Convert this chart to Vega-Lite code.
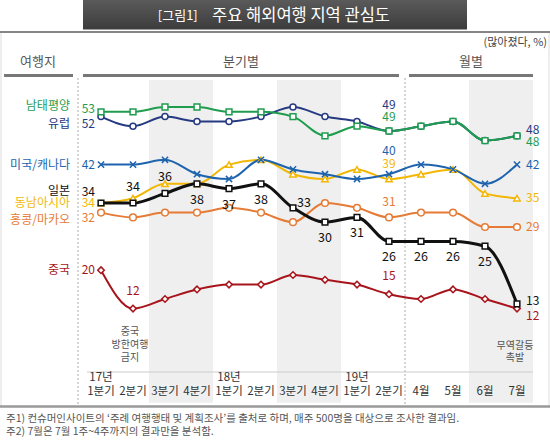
{
  "$schema": "https://vega.github.io/schema/vega-lite/v6.json",
  "width": 550,
  "height": 440,
  "autosize": {"type": "none"},
  "padding": 0,
  "background": "white",
  "config": {"view": {"stroke": null}, "text": {"font": "Noto Sans CJK KR"}},
  "datasets": {
    "series": [
      {"s":"홍콩/마카오","i":0,"v":32},{"s":"홍콩/마카오","i":1,"v":31},{"s":"홍콩/마카오","i":2,"v":32},{"s":"홍콩/마카오","i":3,"v":32},{"s":"홍콩/마카오","i":4,"v":33},{"s":"홍콩/마카오","i":5,"v":32},{"s":"홍콩/마카오","i":6,"v":30},{"s":"홍콩/마카오","i":7,"v":34},{"s":"홍콩/마카오","i":8,"v":33},{"s":"홍콩/마카오","i":9,"v":31},{"s":"홍콩/마카오","i":10,"v":32},{"s":"홍콩/마카오","i":11,"v":32},{"s":"홍콩/마카오","i":12,"v":29},{"s":"홍콩/마카오","i":13,"v":29},
      {"s":"중국","i":0,"v":20},{"s":"중국","i":1,"v":12},{"s":"중국","i":2,"v":14},{"s":"중국","i":3,"v":16},{"s":"중국","i":4,"v":17},{"s":"중국","i":5,"v":17},{"s":"중국","i":6,"v":19},{"s":"중국","i":7,"v":18},{"s":"중국","i":8,"v":17},{"s":"중국","i":9,"v":15},{"s":"중국","i":10,"v":14},{"s":"중국","i":11,"v":16},{"s":"중국","i":12,"v":14},{"s":"중국","i":13,"v":12},
      {"s":"동남아시아","i":0,"v":34},{"s":"동남아시아","i":1,"v":35},{"s":"동남아시아","i":2,"v":38},{"s":"동남아시아","i":3,"v":38},{"s":"동남아시아","i":4,"v":42},{"s":"동남아시아","i":5,"v":43},{"s":"동남아시아","i":6,"v":40},{"s":"동남아시아","i":7,"v":39},{"s":"동남아시아","i":8,"v":41},{"s":"동남아시아","i":9,"v":39},{"s":"동남아시아","i":10,"v":40},{"s":"동남아시아","i":11,"v":41},{"s":"동남아시아","i":12,"v":36},{"s":"동남아시아","i":13,"v":35},
      {"s":"미국/캐나다","i":0,"v":42},{"s":"미국/캐나다","i":1,"v":42},{"s":"미국/캐나다","i":2,"v":43},{"s":"미국/캐나다","i":3,"v":40},{"s":"미국/캐나다","i":4,"v":39},{"s":"미국/캐나다","i":5,"v":43},{"s":"미국/캐나다","i":6,"v":41},{"s":"미국/캐나다","i":7,"v":40},{"s":"미국/캐나다","i":8,"v":39},{"s":"미국/캐나다","i":9,"v":40},{"s":"미국/캐나다","i":10,"v":42},{"s":"미국/캐나다","i":11,"v":41},{"s":"미국/캐나다","i":12,"v":38},{"s":"미국/캐나다","i":13,"v":42},
      {"s":"유럽","i":0,"v":52},{"s":"유럽","i":1,"v":50},{"s":"유럽","i":2,"v":52},{"s":"유럽","i":3,"v":51},{"s":"유럽","i":4,"v":51},{"s":"유럽","i":5,"v":52},{"s":"유럽","i":6,"v":54},{"s":"유럽","i":7,"v":52},{"s":"유럽","i":8,"v":51},{"s":"유럽","i":9,"v":49},{"s":"유럽","i":10,"v":50},{"s":"유럽","i":11,"v":51},{"s":"유럽","i":12,"v":47},{"s":"유럽","i":13,"v":48},
      {"s":"남태평양","i":0,"v":53},{"s":"남태평양","i":1,"v":53},{"s":"남태평양","i":2,"v":54},{"s":"남태평양","i":3,"v":54},{"s":"남태평양","i":4,"v":53},{"s":"남태평양","i":5,"v":53},{"s":"남태평양","i":6,"v":52},{"s":"남태평양","i":7,"v":48},{"s":"남태평양","i":8,"v":50},{"s":"남태평양","i":9,"v":49},{"s":"남태평양","i":10,"v":50},{"s":"남태평양","i":11,"v":51},{"s":"남태평양","i":12,"v":47},{"s":"남태평양","i":13,"v":48},
      {"s":"일본","i":0,"v":34},{"s":"일본","i":1,"v":34},{"s":"일본","i":2,"v":36},{"s":"일본","i":3,"v":38},{"s":"일본","i":4,"v":37},{"s":"일본","i":5,"v":38},{"s":"일본","i":6,"v":33},{"s":"일본","i":7,"v":30},{"s":"일본","i":8,"v":31},{"s":"일본","i":9,"v":26},{"s":"일본","i":10,"v":26},{"s":"일본","i":11,"v":26},{"s":"일본","i":12,"v":25},{"s":"일본","i":13,"v":13}
    ],
    "periods": [
      {"i":0,"t":"1분기"},{"i":1,"t":"2분기"},{"i":2,"t":"3분기"},{"i":3,"t":"4분기"},
      {"i":4,"t":"1분기"},{"i":5,"t":"2분기"},{"i":6,"t":"3분기"},{"i":7,"t":"4분기"},
      {"i":8,"t":"1분기"},{"i":9,"t":"2분기"},
      {"i":10,"t":"4월"},{"i":11,"t":"5월"},{"i":12,"t":"6월"},{"i":13,"t":"7월"}
    ],
    "years": [{"i":0,"t":"17년"},{"i":4,"t":"18년"},{"i":8,"t":"19년"}],
    "shade": [{"a":1.5,"b":3.5},{"a":5.5,"b":7.5},{"a":11.5,"b":13.5}]
  },
  "layer": [
    {
      "data": {"name": "shade"},
      "mark": {"type": "rect", "fill": "#efefef"},
      "encoding": {
        "x": {"field": "a", "type": "quantitative", "scale": {"domain": [-3.15625, 14.03125], "nice": false, "zero": false}, "axis": null},
        "x2": {"field": "b"},
        "y": {"datum": 59.625, "type": "quantitative", "scale": {"domain": [-15.375, 76.29167], "nice": false, "zero": false}, "axis": null},
        "y2": {"datum": -7.625}
      }
    },
    {
      "data": {"values": [{}]},
      "mark": {"type": "rule", "stroke": "#dddddd", "strokeWidth": 1},
      "encoding": {"x": {"datum": -3.125, "type": "quantitative", "axis": null}, "y": {"datum": 69.6, "type": "quantitative", "axis": null}, "y2": {"datum": -8.4}}
    },
    {
      "data": {"values": [{}]},
      "mark": {"type": "rule", "stroke": "#dddddd", "strokeWidth": 1},
      "encoding": {"x": {"datum": 14.0, "type": "quantitative", "axis": null}, "y": {"datum": 69.6, "type": "quantitative", "axis": null}, "y2": {"datum": -8.4}}
    },
    {
      "data": {"values": [{}]},
      "mark": {"type": "rule", "stroke": "#aaaaaa", "strokeWidth": 1, "strokeDash": [2, 2]},
      "encoding": {"x": {"datum": -0.71875, "type": "quantitative", "axis": null}, "y": {"datum": 60.04, "type": "quantitative", "axis": null}, "y2": {"datum": -7.96}}
    },
    {
      "data": {"values": [{}]},
      "mark": {"type": "rule", "stroke": "#aaaaaa", "strokeWidth": 1, "strokeDash": [2, 2]},
      "encoding": {"x": {"datum": 9.5, "type": "quantitative", "axis": null}, "y": {"datum": 60.04, "type": "quantitative", "axis": null}, "y2": {"datum": -7.96}}
    },
    {
      "data": {"values": [{}]},
      "mark": {"type": "rule", "stroke": "#cccccc", "strokeWidth": 1},
      "encoding": {"x": {"datum": -0.4375, "type": "quantitative", "axis": null}, "x2": {"datum": 13.5}, "y": {"datum": -1.21, "type": "quantitative", "axis": null}}
    },
    {
      "data": {"values": [{}]},
      "mark": {"type": "rect", "fill": {"gradient": "linear", "x1": 0, "y1": 0, "x2": 0, "y2": 1, "stops": [{"offset": 0, "color": "#5a5a5a"}, {"offset": 1, "color": "#3c3c3c"}]}},
      "encoding": {"x": {"datum": -0.5625, "type": "quantitative", "axis": null}, "x2": {"datum": 11.4375}, "y": {"datum": 76.29, "type": "quantitative", "axis": null}, "y2": {"datum": 70.15}}
    },
    {
      "data": {"values": [{}]},
      "mark": {"type": "text", "text": "[그림1]", "fill": "white", "fontSize": 13, "baseline": "middle", "align": "center"},
      "encoding": {"x": {"datum": 2.4, "type": "quantitative", "axis": null}, "y": {"datum": 72.9, "type": "quantitative", "axis": null}}
    },
    {
      "data": {"values": [{}]},
      "mark": {"type": "text", "text": "주요 해외여행 지역 관심도", "fill": "white", "fontSize": 16.5, "baseline": "middle", "align": "center"},
      "encoding": {"x": {"datum": 6.25, "type": "quantitative", "axis": null}, "y": {"datum": 72.96, "type": "quantitative", "axis": null}}
    },
    {
      "data": {"values": [{}]},
      "mark": {"type": "rule", "stroke": "#858585", "strokeWidth": 2},
      "encoding": {"x": {"datum": -3.15625, "type": "quantitative", "axis": null}, "x2": {"datum": 14.03125}, "y": {"datum": 69.625, "type": "quantitative", "axis": null}}
    },
    {
      "data": {"values": [{}]},
      "mark": {"type": "text", "text": "(많아졌다, %)", "fill": "#444444", "fontSize": 11, "baseline": "middle", "align": "right"},
      "encoding": {"x": {"datum": 13.9375, "type": "quantitative", "axis": null}, "y": {"datum": 67.33, "type": "quantitative", "axis": null}}
    },
    {
      "data": {"values": [{}]},
      "mark": {"type": "text", "text": "여행지", "fill": "#555555", "fontSize": 13, "baseline": "middle", "align": "center"},
      "encoding": {"x": {"datum": -1.96875, "type": "quantitative", "axis": null}, "y": {"datum": 63.375, "type": "quantitative", "axis": null}}
    },
    {
      "data": {"values": [{}]},
      "mark": {"type": "text", "text": "분기별", "fill": "#555555", "fontSize": 13, "baseline": "middle", "align": "center"},
      "encoding": {"x": {"datum": 4.375, "type": "quantitative", "axis": null}, "y": {"datum": 63.375, "type": "quantitative", "axis": null}}
    },
    {
      "data": {"values": [{}]},
      "mark": {"type": "text", "text": "월별", "fill": "#555555", "fontSize": 13, "baseline": "middle", "align": "center"},
      "encoding": {"x": {"datum": 11.5625, "type": "quantitative", "axis": null}, "y": {"datum": 63.375, "type": "quantitative", "axis": null}}
    },
    {
      "data": {"values": [{}]},
      "mark": {"type": "rule", "stroke": "#777777", "strokeWidth": 3},
      "encoding": {"x": {"datum": -3.03, "type": "quantitative", "axis": null}, "x2": {"datum": -0.875}, "y": {"datum": 60.56, "type": "quantitative", "axis": null}}
    },
    {
      "data": {"values": [{}]},
      "mark": {"type": "rule", "stroke": "#777777", "strokeWidth": 3},
      "encoding": {"x": {"datum": -0.5625, "type": "quantitative", "axis": null}, "x2": {"datum": 9.3125}, "y": {"datum": 60.56, "type": "quantitative", "axis": null}}
    },
    {
      "data": {"values": [{}]},
      "mark": {"type": "rule", "stroke": "#777777", "strokeWidth": 3},
      "encoding": {"x": {"datum": 9.625, "type": "quantitative", "axis": null}, "x2": {"datum": 13.5}, "y": {"datum": 60.56, "type": "quantitative", "axis": null}}
    },
    {
      "data": {"name": "periods"},
      "mark": {"type": "text", "fill": "#333333", "fontSize": 11.5, "baseline": "middle", "align": "center"},
      "encoding": {"x": {"field": "i", "type": "quantitative", "axis": null}, "y": {"datum": -5.4, "type": "quantitative", "axis": null}, "text": {"field": "t"}}
    },
    {
      "data": {"name": "years"},
      "mark": {"type": "text", "fill": "#333333", "fontSize": 11.5, "baseline": "middle", "align": "center"},
      "encoding": {"x": {"field": "i", "type": "quantitative", "axis": null}, "y": {"datum": -2.55, "type": "quantitative", "axis": null}, "text": {"field": "t"}}
    },
    {
      "data": {"values": [{}]},
      "mark": {"type": "rule", "stroke": "#999999", "strokeWidth": 2.5},
      "encoding": {"x": {"datum": -3.15625, "type": "quantitative", "axis": null}, "x2": {"datum": 14.03125}, "y": {"datum": -8.375, "type": "quantitative", "axis": null}}
    },
    {
      "data": {"values": [{}]},
      "mark": {"type": "text", "text": "주1) 컨슈머인사이트의 ‘주례 여행행태 및 계획조사’를 출처로 하며, 매주 500명을 대상으로 조사한 결과임.", "fill": "#555555", "fontSize": 10.5, "baseline": "middle", "align": "left"},
      "encoding": {"x": {"datum": -2.96875, "type": "quantitative", "axis": null}, "y": {"datum": -11.08, "type": "quantitative", "axis": null}}
    },
    {
      "data": {"values": [{}]},
      "mark": {"type": "text", "text": "주2) 7월은 7월 1주~4주까지의 결과만을 분석함.", "fill": "#555555", "fontSize": 10.5, "baseline": "middle", "align": "left"},
      "encoding": {"x": {"datum": -2.96875, "type": "quantitative", "axis": null}, "y": {"datum": -13.79, "type": "quantitative", "axis": null}}
    },
    {
      "data": {"values": [{}]},
      "mark": {"type": "text", "text": ["중국", "방한여행", "금지"], "lineHeight": 13, "fill": "#555555", "fontSize": 10, "baseline": "top", "align": "center"},
      "encoding": {"x": {"datum": 0.90625, "type": "quantitative", "axis": null}, "y": {"datum": 8.2, "type": "quantitative", "axis": null}}
    },
    {
      "data": {"values": [{}]},
      "mark": {"type": "text", "text": ["무역갈등", "촉발"], "lineHeight": 12, "fill": "#555555", "fontSize": 10, "baseline": "top", "align": "center"},
      "encoding": {"x": {"datum": 12.9375, "type": "quantitative", "axis": null}, "y": {"datum": 5.3, "type": "quantitative", "axis": null}}
    },
    {
      "data": {"name": "series"},
      "transform": [{"filter": "datum.s !== '일본'"}],
      "mark": {"type": "line", "interpolate": "monotone", "strokeWidth": 2},
      "encoding": {
        "x": {"field": "i", "type": "quantitative", "axis": null},
        "y": {"field": "v", "type": "quantitative", "axis": null},
        "color": {"field": "s", "type": "nominal", "legend": null, "scale": {"domain": ["홍콩/마카오","중국","동남아시아","미국/캐나다","유럽","남태평양","일본"], "range": ["#e57b35","#a8141c","#f2b705","#1e63ad","#263a82","#1e9d4e","#111111"]}},
        "order": {"field": "i"}
      }
    },
    {
      "data": {"name": "series"},
      "transform": [{"filter": "datum.s === '일본'"}],
      "mark": {"type": "line", "interpolate": "monotone", "strokeWidth": 3},
      "encoding": {
        "x": {"field": "i", "type": "quantitative", "axis": null},
        "y": {"field": "v", "type": "quantitative", "axis": null},
        "color": {"field": "s", "type": "nominal", "legend": null},
        "order": {"field": "i"}
      }
    },
    {
      "data": {"name": "series"},
      "mark": {"type": "point", "fill": "white", "filled": false, "strokeWidth": 1.5, "opacity": 1, "fillOpacity": 1},
      "encoding": {
        "x": {"field": "i", "type": "quantitative", "axis": null},
        "y": {"field": "v", "type": "quantitative", "axis": null},
        "color": {"field": "s", "type": "nominal", "legend": null},
        "shape": {"field": "s", "type": "nominal", "legend": null, "scale": {"domain": ["홍콩/마카오","중국","동남아시아","미국/캐나다","유럽","남태평양","일본"], "range": ["circle","diamond","triangle-up","M-1,-1L1,1M1,-1L-1,1","circle","square","square"]}},
        "size": {"field": "s", "type": "nominal", "legend": null, "scale": {"domain": ["홍콩/마카오","중국","동남아시아","미국/캐나다","유럽","남태평양","일본"], "range": [45, 32, 45, 40, 45, 55, 60]}}
      }
    },
    {
      "data": {"name": "series"},
      "transform": [{"filter": "datum.i === 0 && (datum.s === '미국/캐나다' || datum.s === '동남아시아' || datum.s === '중국')"}],
      "mark": {"type": "text", "fontSize": 12, "align": "right", "baseline": "middle", "dx": -6},
      "encoding": {"x": {"field": "i", "type": "quantitative", "axis": null}, "y": {"field": "v", "type": "quantitative", "axis": null}, "text": {"field": "v", "type": "quantitative"}, "color": {"field": "s", "type": "nominal", "legend": null}}
    },
    {
      "data": {"name": "series"},
      "transform": [{"filter": "datum.i === 0 && datum.s === '남태평양'"}],
      "mark": {"type": "text", "fontSize": 12, "align": "right", "baseline": "middle", "dx": -6, "dy": -3},
      "encoding": {"x": {"field": "i", "type": "quantitative", "axis": null}, "y": {"field": "v", "type": "quantitative", "axis": null}, "text": {"field": "v", "type": "quantitative"}, "color": {"field": "s", "type": "nominal", "legend": null}}
    },
    {
      "data": {"name": "series"},
      "transform": [{"filter": "datum.i === 0 && datum.s === '유럽'"}],
      "mark": {"type": "text", "fontSize": 12, "align": "right", "baseline": "middle", "dx": -6, "dy": 7},
      "encoding": {"x": {"field": "i", "type": "quantitative", "axis": null}, "y": {"field": "v", "type": "quantitative", "axis": null}, "text": {"field": "v", "type": "quantitative"}, "color": {"field": "s", "type": "nominal", "legend": null}}
    },
    {
      "data": {"name": "series"},
      "transform": [{"filter": "datum.i === 0 && datum.s === '홍콩/마카오'"}],
      "mark": {"type": "text", "fontSize": 12, "align": "right", "baseline": "middle", "dx": -6, "dy": 5},
      "encoding": {"x": {"field": "i", "type": "quantitative", "axis": null}, "y": {"field": "v", "type": "quantitative", "axis": null}, "text": {"field": "v", "type": "quantitative"}, "color": {"field": "s", "type": "nominal", "legend": null}}
    },
    {
      "data": {"name": "series"},
      "transform": [{"filter": "datum.i === 0 && datum.s === '일본'"}],
      "mark": {"type": "text", "fontSize": 12, "align": "right", "baseline": "middle", "dx": -6, "dy": -11},
      "encoding": {"x": {"field": "i", "type": "quantitative", "axis": null}, "y": {"field": "v", "type": "quantitative", "axis": null}, "text": {"field": "v", "type": "quantitative"}, "color": {"field": "s", "type": "nominal", "legend": null}}
    },
    {
      "data": {"name": "series"},
      "transform": [{"filter": "datum.i === 9 && (datum.s === '동남아시아' || datum.s === '홍콩/마카오')"}],
      "mark": {"type": "text", "fontSize": 12, "align": "center", "baseline": "middle", "dy": -15},
      "encoding": {"x": {"field": "i", "type": "quantitative", "axis": null}, "y": {"field": "v", "type": "quantitative", "axis": null}, "text": {"field": "v", "type": "quantitative"}, "color": {"field": "s", "type": "nominal", "legend": null}}
    },
    {
      "data": {"name": "series"},
      "transform": [{"filter": "datum.i === 9 && datum.s === '남태평양'"}],
      "mark": {"type": "text", "fontSize": 12, "align": "center", "baseline": "middle", "dy": -14},
      "encoding": {"x": {"field": "i", "type": "quantitative", "axis": null}, "y": {"field": "v", "type": "quantitative", "axis": null}, "text": {"field": "v", "type": "quantitative"}, "color": {"field": "s", "type": "nominal", "legend": null}}
    },
    {
      "data": {"name": "series"},
      "transform": [{"filter": "datum.i === 9 && datum.s === '유럽'"}],
      "mark": {"type": "text", "fontSize": 12, "align": "center", "baseline": "middle", "dy": -26},
      "encoding": {"x": {"field": "i", "type": "quantitative", "axis": null}, "y": {"field": "v", "type": "quantitative", "axis": null}, "text": {"field": "v", "type": "quantitative"}, "color": {"field": "s", "type": "nominal", "legend": null}}
    },
    {
      "data": {"name": "series"},
      "transform": [{"filter": "datum.i === 9 && datum.s === '미국/캐나다'"}],
      "mark": {"type": "text", "fontSize": 12, "align": "center", "baseline": "middle", "dy": -23},
      "encoding": {"x": {"field": "i", "type": "quantitative", "axis": null}, "y": {"field": "v", "type": "quantitative", "axis": null}, "text": {"field": "v", "type": "quantitative"}, "color": {"field": "s", "type": "nominal", "legend": null}}
    },
    {
      "data": {"name": "series"},
      "transform": [{"filter": "(datum.i === 9 || datum.i === 1) && datum.s === '중국'"}],
      "mark": {"type": "text", "fontSize": 12, "align": "center", "baseline": "middle", "dy": -18},
      "encoding": {"x": {"field": "i", "type": "quantitative", "axis": null}, "y": {"field": "v", "type": "quantitative", "axis": null}, "text": {"field": "v", "type": "quantitative"}, "color": {"field": "s", "type": "nominal", "legend": null}}
    },
    {
      "data": {"name": "series"},
      "transform": [{"filter": "datum.i === 13 && (datum.s === '미국/캐나다' || datum.s === '동남아시아' || datum.s === '홍콩/마카오')"}],
      "mark": {"type": "text", "fontSize": 12, "align": "left", "baseline": "middle", "dx": 9},
      "encoding": {"x": {"field": "i", "type": "quantitative", "axis": null}, "y": {"field": "v", "type": "quantitative", "axis": null}, "text": {"field": "v", "type": "quantitative"}, "color": {"field": "s", "type": "nominal", "legend": null}}
    },
    {
      "data": {"name": "series"},
      "transform": [{"filter": "datum.i === 13 && datum.s === '일본'"}],
      "mark": {"type": "text", "fontSize": 12, "align": "left", "baseline": "middle", "dx": 9, "dy": -3},
      "encoding": {"x": {"field": "i", "type": "quantitative", "axis": null}, "y": {"field": "v", "type": "quantitative", "axis": null}, "text": {"field": "v", "type": "quantitative"}, "color": {"field": "s", "type": "nominal", "legend": null}}
    },
    {
      "data": {"name": "series"},
      "transform": [{"filter": "datum.i === 13 && datum.s === '유럽'"}],
      "mark": {"type": "text", "fontSize": 12, "align": "left", "baseline": "middle", "dx": 9, "dy": -6},
      "encoding": {"x": {"field": "i", "type": "quantitative", "axis": null}, "y": {"field": "v", "type": "quantitative", "axis": null}, "text": {"field": "v", "type": "quantitative"}, "color": {"field": "s", "type": "nominal", "legend": null}}
    },
    {
      "data": {"name": "series"},
      "transform": [{"filter": "datum.i === 13 && datum.s === '남태평양'"}],
      "mark": {"type": "text", "fontSize": 12, "align": "left", "baseline": "middle", "dx": 9, "dy": 6},
      "encoding": {"x": {"field": "i", "type": "quantitative", "axis": null}, "y": {"field": "v", "type": "quantitative", "axis": null}, "text": {"field": "v", "type": "quantitative"}, "color": {"field": "s", "type": "nominal", "legend": null}}
    },
    {
      "data": {"name": "series"},
      "transform": [{"filter": "datum.i === 13 && datum.s === '중국'"}],
      "mark": {"type": "text", "fontSize": 12, "align": "left", "baseline": "middle", "dx": 9, "dy": 7},
      "encoding": {"x": {"field": "i", "type": "quantitative", "axis": null}, "y": {"field": "v", "type": "quantitative", "axis": null}, "text": {"field": "v", "type": "quantitative"}, "color": {"field": "s", "type": "nominal", "legend": null}}
    },
    {
      "data": {"name": "series"},
      "transform": [{"filter": "datum.s === '일본' && (datum.i === 1 || datum.i === 2)"}],
      "mark": {"type": "text", "fontSize": 12.5, "align": "center", "baseline": "middle", "dy": -16},
      "encoding": {"x": {"field": "i", "type": "quantitative", "axis": null}, "y": {"field": "v", "type": "quantitative", "axis": null}, "text": {"field": "v", "type": "quantitative"}, "color": {"field": "s", "type": "nominal", "legend": null}}
    },
    {
      "data": {"name": "series"},
      "transform": [{"filter": "datum.s === '일본' && datum.i >= 3 && datum.i <= 12 && datum.i !== 6"}],
      "mark": {"type": "text", "fontSize": 12.5, "align": "center", "baseline": "middle", "dy": 16},
      "encoding": {"x": {"field": "i", "type": "quantitative", "axis": null}, "y": {"field": "v", "type": "quantitative", "axis": null}, "text": {"field": "v", "type": "quantitative"}, "color": {"field": "s", "type": "nominal", "legend": null}}
    },
    {
      "data": {"name": "series"},
      "transform": [{"filter": "datum.s === '일본' && datum.i === 6"}],
      "mark": {"type": "text", "fontSize": 12.5, "align": "center", "baseline": "middle", "dx": 11, "dy": -5},
      "encoding": {"x": {"field": "i", "type": "quantitative", "axis": null}, "y": {"field": "v", "type": "quantitative", "axis": null}, "text": {"field": "v", "type": "quantitative"}, "color": {"field": "s", "type": "nominal", "legend": null}}
    },
    {
      "data": {"name": "series"},
      "transform": [{"filter": "datum.i === 0 && (datum.s === '미국/캐나다' || datum.s === '동남아시아' || datum.s === '중국')"}],
      "mark": {"type": "text", "fontSize": 12, "align": "right", "baseline": "middle"},
      "encoding": {"x": {"datum": -0.96875, "type": "quantitative", "axis": null}, "y": {"field": "v", "type": "quantitative", "axis": null}, "text": {"field": "s"}, "color": {"field": "s", "type": "nominal", "legend": null}}
    },
    {
      "data": {"name": "series"},
      "transform": [{"filter": "datum.i === 0 && datum.s === '남태평양'"}],
      "mark": {"type": "text", "fontSize": 12, "align": "right", "baseline": "middle", "dy": -6},
      "encoding": {"x": {"datum": -0.96875, "type": "quantitative", "axis": null}, "y": {"field": "v", "type": "quantitative", "axis": null}, "text": {"field": "s"}, "color": {"field": "s", "type": "nominal", "legend": null}}
    },
    {
      "data": {"name": "series"},
      "transform": [{"filter": "datum.i === 0 && datum.s === '유럽'"}],
      "mark": {"type": "text", "fontSize": 12, "align": "right", "baseline": "middle", "dy": 7},
      "encoding": {"x": {"datum": -0.96875, "type": "quantitative", "axis": null}, "y": {"field": "v", "type": "quantitative", "axis": null}, "text": {"field": "s"}, "color": {"field": "s", "type": "nominal", "legend": null}}
    },
    {
      "data": {"name": "series"},
      "transform": [{"filter": "datum.i === 0 && datum.s === '홍콩/마카오'"}],
      "mark": {"type": "text", "fontSize": 12, "align": "right", "baseline": "middle", "dy": 7},
      "encoding": {"x": {"datum": -0.96875, "type": "quantitative", "axis": null}, "y": {"field": "v", "type": "quantitative", "axis": null}, "text": {"field": "s"}, "color": {"field": "s", "type": "nominal", "legend": null}}
    },
    {
      "data": {"name": "series"},
      "transform": [{"filter": "datum.i === 0 && datum.s === '일본'"}],
      "mark": {"type": "text", "fontSize": 12, "align": "right", "baseline": "middle", "dy": -12},
      "encoding": {"x": {"datum": -0.96875, "type": "quantitative", "axis": null}, "y": {"field": "v", "type": "quantitative", "axis": null}, "text": {"field": "s"}, "color": {"field": "s", "type": "nominal", "legend": null}}
    }
  ]
}
